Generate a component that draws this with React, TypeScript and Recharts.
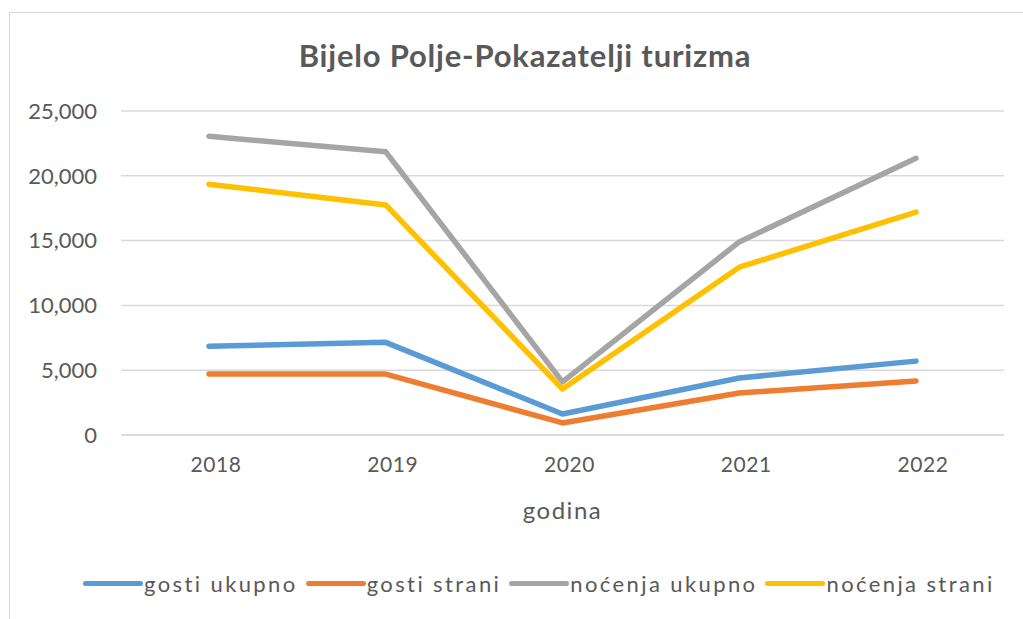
import { CartesianGrid, Label, Line, LineChart, XAxis, YAxis } from "recharts";

const years = ["2018", "2019", "2020", "2021", "2022"];
const gostiUkupno = [6850, 7150, 1620, 4400, 5700];
const gostiStrani = [4700, 4700, 930, 3240, 4170];
const nocenjaUkupno = [23050, 21850, 4100, 14900, 21350];
const nocenjaStrani = [19350, 17750, 3550, 12950, 17200];
const yTicks = [0, 5000, 10000, 15000, 20000, 25000];

const series = [
  { key: "gostiUkupno", name: "gosti ukupno", color: "#5B9BD5" },
  { key: "gostiStrani", name: "gosti strani", color: "#ED7D31" },
  { key: "nocenjaUkupno", name: "noćenja ukupno", color: "#A5A5A5" },
  { key: "nocenjaStrani", name: "noćenja strani", color: "#FFC000" },
];

const data = years.map((year, i) => ({
  year,
  gostiUkupno: gostiUkupno[i],
  gostiStrani: gostiStrani[i],
  nocenjaUkupno: nocenjaUkupno[i],
  nocenjaStrani: nocenjaStrani[i],
}));

const font = "Lato, 'Open Sans', sans-serif";
const textColor = "#595959";

export default function App() {
  return (
    <div
      style={{
        position: "absolute",
        left: 9,
        top: 12,
        width: 1014,
        height: 607,
        borderTop: "1.5px solid #d9d9d9",
        borderLeft: "1.5px solid #d9d9d9",
        background: "#ffffff",
        fontFamily: font,
        overflow: "hidden",
      }}
    >
      <div
        style={{
          position: "absolute",
          top: 23,
          left: 0,
          width: 1030,
          textAlign: "center",
          fontSize: 31,
          fontWeight: 700,
          letterSpacing: 0.8,
          color: textColor,
        }}
      >
        Bijelo Polje-Pokazatelji turizma
      </div>
      <LineChart
        width={1014}
        height={607}
        data={data}
        margin={{ top: 98, right: 20, left: 0, bottom: 85 }}
      >
        <CartesianGrid vertical={false} stroke="#d9d9d9" strokeWidth={1.5} />
        <XAxis
          dataKey="year"
          padding={{ left: 88, right: 88 }}
          axisLine={{ stroke: "#d9d9d9", strokeWidth: 1.5 }}
          tickLine={false}
          tickSize={0}
          tickMargin={22}
          height={100}
          tick={{ fill: textColor, fontSize: 21, fontFamily: font, letterSpacing: 0.6, dx: 7 }}
        >
          <Label
            value="godina"
            position="insideBottom"
            offset={16}
            style={{ fill: textColor, fontSize: 24, fontFamily: font, letterSpacing: 1.5 }}
          />
        </XAxis>
        <YAxis
          width={111}
          domain={[0, 25000]}
          ticks={yTicks}
          axisLine={false}
          tickLine={false}
          tickSize={0}
          tickMargin={24}
          tickFormatter={(v: number) => v.toLocaleString("en-US")}
          tick={{ fill: textColor, fontSize: 22, fontFamily: font }}
        />
        {series.map((s) => (
          <Line
            key={s.key}
            type="linear"
            dataKey={s.key}
            name={s.name}
            stroke={s.color}
            strokeWidth={5.5}
            strokeLinecap="round"
            strokeLinejoin="round"
            dot={false}
            isAnimationActive={false}
          />
        ))}
      </LineChart>
      <div
        style={{
          position: "absolute",
          top: 557,
          left: 73,
          display: "flex",
          alignItems: "center",
          fontSize: 22,
          letterSpacing: 2.4,
          color: textColor,
        }}
      >
        {series.map((s) => (
          <div key={s.key} style={{ display: "flex", alignItems: "center", marginRight: 8 }}>
            <div
              style={{
                width: 60,
                height: 5,
                borderRadius: 3,
                background: s.color,
                marginRight: 1,
              }}
            />
            <span>{s.name}</span>
          </div>
        ))}
      </div>
    </div>
  );
}
